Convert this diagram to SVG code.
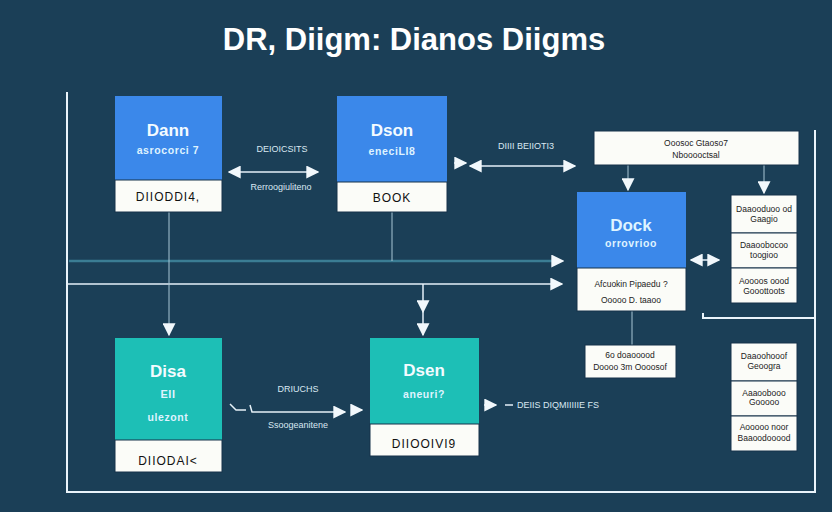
<svg xmlns="http://www.w3.org/2000/svg" width="832" height="512" viewBox="0 0 832 512">
<defs>
<style>
text{font-family:"Liberation Sans",Arial,sans-serif}
.title{font-size:31px;font-weight:bold;fill:#ffffff}
.frame{stroke:#eaf4fb;stroke-width:2;fill:none}
.blue{fill:#3b88ea}
.teal{fill:#1dbfb6}
.wbox{fill:#fbfcf8;stroke:#16324a;stroke-width:1}
.head{font-size:17px;font-weight:bold;fill:#f3fbff;text-anchor:middle}
.sub{font-size:10.5px;font-weight:bold;fill:#dff3ff;text-anchor:middle;letter-spacing:0.6px}
.foot{font-size:12px;fill:#111;text-anchor:middle;letter-spacing:1px}
.small{font-size:8.5px;fill:#222;text-anchor:middle}
.lbl{font-size:9px;fill:#d9e8f2}
.conn{stroke:#e6f1f8;stroke-width:1.5;fill:none}
.thin{stroke:#a9c7d6;stroke-width:1;fill:none}
</style>
<marker id="ahb" viewBox="0 0 10 10" refX="9" refY="5" markerWidth="13" markerHeight="13" markerUnits="userSpaceOnUse" orient="auto-start-reverse">
<path d="M0,0 L10,5 L0,10 z" fill="#f2f8fc"/>
</marker>
</defs>
<rect width="832" height="512" fill="#1b3f57"/>
<text class="title" x="414" y="50" text-anchor="middle">DR, Diigm: Dianos Diigms</text>

<g id="frame">
<path class="frame" d="M67,92 V492 H815 V130"/>
<path class="frame" d="M703,313 V318 H815"/>
</g>

<g id="connectors">
<line x1="69" y1="261" x2="556" y2="261" stroke="#3b7d94" stroke-width="2.5"/>
<line x1="69" y1="261" x2="563" y2="261" stroke="none" marker-end="url(#ahb)"/>
<line class="conn" x1="67" y1="284" x2="562" y2="284" marker-end="url(#ahb)"/>
<line class="thin" x1="169" y1="212" x2="169" y2="335" marker-end="url(#ahb)"/>
<line class="thin" x1="392" y1="212" x2="392" y2="261"/>
<line class="conn" x1="423" y1="284" x2="423" y2="312" marker-end="url(#ahb)"/>
<line class="conn" x1="423" y1="312" x2="423" y2="335" marker-end="url(#ahb)"/>
<line class="conn" x1="229" y1="172" x2="318" y2="172" marker-start="url(#ahb)" marker-end="url(#ahb)"/>
<text class="lbl" x="282" y="152" text-anchor="middle">DEIOICSITS</text>
<text class="lbl" x="281" y="190" text-anchor="middle">Rerroogiuliteno</text>
<line class="conn" x1="454" y1="163" x2="466" y2="163" marker-end="url(#ahb)"/>
<line class="conn" x1="470" y1="166" x2="575" y2="166" marker-start="url(#ahb)" marker-end="url(#ahb)"/>
<text class="lbl" x="526" y="149" text-anchor="middle">DIIII BEIIOTI3</text>
<line class="thin" x1="628" y1="165" x2="628" y2="190" marker-end="url(#ahb)"/>
<line class="thin" x1="764" y1="165" x2="764" y2="193" marker-end="url(#ahb)"/>
<line class="conn" x1="691" y1="260" x2="719" y2="260" marker-start="url(#ahb)" marker-end="url(#ahb)"/>
<line class="thin" x1="632" y1="311" x2="632" y2="345"/>
<path class="conn" d="M230,404 L236,410 H246 M250,405 L252,412 H345" marker-end="url(#ahb)"/>
<line class="conn" x1="352" y1="410" x2="362" y2="410" marker-end="url(#ahb)"/>
<text class="lbl" x="298" y="392" text-anchor="middle">DRIUCHS</text>
<text class="lbl" x="298" y="428" text-anchor="middle">Ssoogeanitene</text>
<line class="conn" x1="484" y1="405" x2="496" y2="405" marker-end="url(#ahb)"/>
<line class="conn" x1="505" y1="405" x2="513" y2="405"/>
<text class="lbl" x="517" y="408" text-anchor="start">DEIIS DIQMIIIIIE FS</text>
</g>

<g id="node-dann">
<rect class="blue" x="115" y="96" width="107" height="84"/>
<rect class="wbox" x="115" y="180" width="107" height="32"/>
<text class="head" x="168" y="136">Dann</text>
<text class="sub" x="168" y="154">asrocorci 7</text>
<text class="foot" x="168" y="201">DIIODDI4,</text>
</g>

<g id="node-dson">
<rect class="blue" x="337" y="96" width="110" height="86"/>
<rect class="wbox" x="337" y="182" width="110" height="30"/>
<text class="head" x="392" y="136">Dson</text>
<text class="sub" x="392" y="155">eneciLI8</text>
<text class="foot" x="392" y="202">BOOK</text>
</g>

<g id="node-top">
<rect class="wbox" x="594" y="131" width="205" height="34"/>
<text class="small" x="696" y="146">Ooosoc Gtaoso7</text>
<text class="small" x="696" y="158">Nbooooctsal</text>
</g>

<g id="node-dock">
<rect class="blue" x="577" y="192" width="109" height="76"/>
<rect class="wbox" x="577" y="268" width="109" height="43"/>
<text class="head" x="631" y="231" style="fill:#dff4ff">Dock</text>
<text class="sub" x="631" y="247">orrovrioo</text>
<text class="small" x="631" y="287">Afcuokin Pipaedu ?</text>
<text class="small" x="631" y="303">Ooooo D. taaoo</text>
</g>

<g id="node-stack-top">
<rect class="wbox" x="731" y="195" width="66" height="38"/>
<rect class="wbox" x="731" y="233" width="66" height="35"/>
<rect class="wbox" x="731" y="268" width="66" height="35"/>
<text class="small" x="764" y="212">Daaooduoo od</text>
<text class="small" x="764" y="222">Gaagio</text>
<text class="small" x="764" y="248">Daaoobocoo</text>
<text class="small" x="764" y="258">toogioo</text>
<text class="small" x="764" y="284">Aoooos oood</text>
<text class="small" x="764" y="294">Gooottoots</text>
</g>

<g id="node-small">
<rect class="wbox" x="585" y="345" width="91" height="33"/>
<text class="small" x="630" y="358">6o doaooood</text>
<text class="small" x="630" y="370">Doooo 3m Oooosof</text>
</g>

<g id="node-stack-bottom">
<rect class="wbox" x="731" y="343" width="66" height="38"/>
<rect class="wbox" x="731" y="381" width="66" height="35"/>
<rect class="wbox" x="731" y="416" width="66" height="35"/>
<text class="small" x="764" y="359">Daaoohooof</text>
<text class="small" x="764" y="369">Geoogra</text>
<text class="small" x="764" y="396">Aaaoobooo</text>
<text class="small" x="764" y="405">Gooooo</text>
<text class="small" x="764" y="430">Aooooo noor</text>
<text class="small" x="764" y="441">Baaoodooood</text>
</g>

<g id="node-disa">
<rect class="teal" x="115" y="338" width="107" height="102"/>
<rect class="wbox" x="115" y="440" width="107" height="32"/>
<text class="head" x="168" y="377">Disa</text>
<text class="sub" x="168" y="398" style="font-size:11px">EII</text>
<text class="sub" x="168" y="421">ulezont</text>
<text class="foot" x="168" y="465">DIIODAI&lt;</text>
</g>

<g id="node-dsen">
<rect class="teal" x="370" y="338" width="109" height="86"/>
<rect class="wbox" x="370" y="424" width="109" height="32"/>
<text class="head" x="424" y="376">Dsen</text>
<text class="sub" x="424" y="398">aneuri?</text>
<text class="foot" x="424" y="448">DIIOOIVI9</text>
</g>
</svg>
